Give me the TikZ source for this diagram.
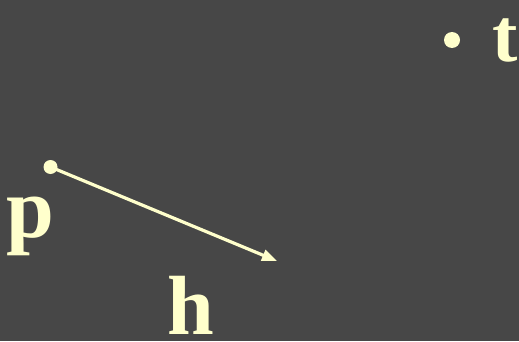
\documentclass[tikz,border=0pt]{standalone}
\usepackage{fontspec}
\setmainfont{Liberation Serif}
\usepackage{tikz}
\usetikzlibrary{arrows.meta}
\definecolor{slate}{HTML}{474747}
\definecolor{cream}{HTML}{FFFFCC}

\begin{document}
\begin{tikzpicture}[x=1pt,y=1pt,>={Triangle[length=15pt,width=11pt]}]
  \fill[slate] (0,0) rectangle (519,341);
  \useasboundingbox (0,0) rectangle (519,341);
  \node[circle,fill=cream,inner sep=0pt,minimum size=14pt] (p0) at (50.5,174) {};
  \node[circle,fill=cream,inner sep=0pt,minimum size=16pt] (t0) at (452,301) {};
  \coordinate (h0) at (277,80);
  \node[anchor=base,text=cream,inner sep=0pt,font=\fontsize{86}{90}\selectfont\bfseries] (plab) at (30,104) {p};
  \node[anchor=base,text=cream,inner sep=0pt,font=\fontsize{84}{90}\selectfont\bfseries] (hlab) at (191,7) {h};
  \node[anchor=base east,text=cream,inner sep=0pt,font=\fontsize{76}{80}\selectfont\bfseries] (tlab) at (518,280) {t};
  \draw[->, cream, line width=3.2pt] (p0.center) -- (h0);
\end{tikzpicture}
\end{document}
